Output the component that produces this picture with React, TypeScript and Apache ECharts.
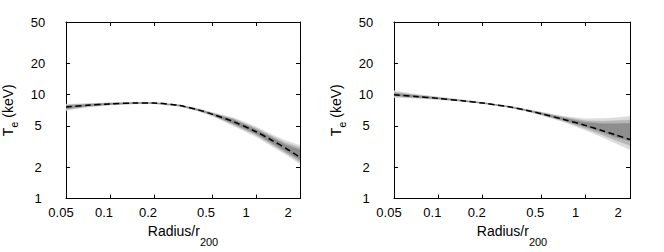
import React, { useEffect, useRef } from 'react';
import * as echarts from 'echarts';

// ---- data ----
const radius = [0.05, 0.07, 0.1, 0.15, 0.2, 0.3, 0.4, 0.5, 0.7, 1, 1.3, 1.6, 2];
const xTickValues = [0.05, 0.1, 0.2, 0.5, 1, 2];
const yTickValues = [1, 2, 5, 10, 20, 50];
const xRange = [0.05, 2];
const yRange = [1, 50];

// left panel
const leftFit = [7.6, 7.9, 8.15, 8.3, 8.3, 7.85, 7.15, 6.5, 5.5, 4.4, 3.6, 3.05, 2.5];
const leftOuterLo = [7.05, 7.6, 7.95, 8.18, 8.2, 7.72, 6.98, 6.25, 5.0, 3.95, 3.15, 2.65, 2.15];
const leftOuterHi = [8.1, 8.2, 8.35, 8.42, 8.4, 7.98, 7.32, 6.75, 6.0, 4.9, 4.1, 3.6, 3.25];
const leftMidLo = [7.2, 7.68, 8.0, 8.22, 8.23, 7.76, 7.03, 6.33, 5.15, 4.08, 3.27, 2.75, 2.25];
const leftMidHi = [7.95, 8.12, 8.3, 8.38, 8.37, 7.94, 7.27, 6.67, 5.85, 4.75, 3.95, 3.42, 3.1];
const leftInnerLo = [7.35, 7.76, 8.05, 8.25, 8.26, 7.8, 7.08, 6.4, 5.25, 4.2, 3.38, 2.85, 2.36];
const leftInnerHi = [7.82, 8.05, 8.25, 8.35, 8.34, 7.9, 7.22, 6.6, 5.75, 4.62, 3.82, 3.28, 2.95];

// right panel
const rightFit = [10.0, 9.6, 9.2, 8.7, 8.3, 7.65, 7.05, 6.55, 5.8, 5.05, 4.5, 4.1, 3.7];
const rightOuterLo = [9.4, 9.25, 9.0, 8.58, 8.22, 7.57, 6.93, 6.35, 5.5, 4.55, 3.9, 3.4, 2.95];
const rightOuterHi = [10.9, 10.1, 9.5, 8.85, 8.4, 7.75, 7.2, 6.8, 6.2, 5.85, 5.9, 6.0, 6.2];
const rightMidLo = [9.6, 9.35, 9.06, 8.62, 8.25, 7.6, 6.97, 6.42, 5.6, 4.72, 4.1, 3.65, 3.25];
const rightMidHi = [10.55, 9.95, 9.4, 8.8, 8.37, 7.72, 7.15, 6.72, 6.1, 5.6, 5.55, 5.6, 5.7];
const rightInnerLo = [9.8, 9.45, 9.12, 8.66, 8.28, 7.62, 7.0, 6.48, 5.7, 4.9, 4.35, 3.9, 3.6];
const rightInnerHi = [10.3, 9.8, 9.32, 8.76, 8.34, 7.7, 7.12, 6.65, 6.0, 5.4, 5.25, 5.25, 5.3];

const xTitle = ['Radius/r', '200'];
const yTitle = ['T', 'e', ' (keV)'];

// ---- styles ----
const FONT = '"Liberation Sans", Arial, Helvetica, sans-serif';
const BAND_COLORS = ['#dcdcdc', '#b6b6b6', '#8e8e8e'];
const labelShift: Record<string, number> = { '0.05': 5, '0.1': 6, '0.2': 6, '0.5': 6, '1': 10, '2': 12 };

const lg = (v: number) => Math.log10(v);
const unlog = (v: number) => String(Number(Math.pow(10, v).toPrecision(4)));

const xRich: Record<string, any> = {};
Object.keys(labelShift).forEach((k) => {
  const s = labelShift[k];
  xRich['s' + s] = { fontSize: 13, fontFamily: FONT, color: '#000', padding: [0, 2 * s, 0, 0] };
});

function buildAxes(gridIndex: number) {
  const line = { show: true, onZero: false, lineStyle: { color: '#000', width: 1 } };
  const tick = (vals: number[]) => ({
    show: true,
    inside: true,
    length: 4,
    lineStyle: { color: '#000', width: 1 },
    customValues: vals.map(lg),
  });
  const xBase = {
    type: 'value' as const,
    gridIndex,
    min: lg(xRange[0]),
    max: lg(xRange[1]),
    splitLine: { show: false },
    axisLine: line,
    axisTick: tick(xTickValues),
  };
  const yBase = {
    type: 'value' as const,
    gridIndex,
    min: lg(yRange[0]),
    max: lg(yRange[1]),
    splitLine: { show: false },
    axisLine: line,
    axisTick: tick(yTickValues),
  };
  const xAxes = [
    {
      ...xBase,
      position: 'bottom',
      axisLabel: {
        show: true,
        margin: 7,
        fontSize: 13,
        fontFamily: FONT,
        color: '#000',
        customValues: xTickValues.map(lg),
        formatter: (v: number) => {
          const t = unlog(v);
          return '{s' + (labelShift[t] ?? 6) + '|' + t + '}';
        },
        rich: xRich,
      },
      name: '{a|' + xTitle[0] + '}{b|' + xTitle[1] + '}',
      nameLocation: 'middle',
      nameGap: 12,
      nameTextStyle: {
        rich: {
          a: { fontSize: 14, fontFamily: FONT, color: '#000' },
          b: { fontSize: 11, fontFamily: FONT, color: '#000', padding: [22, 0, 0, 0] },
        },
      },
    },
    { ...xBase, position: 'top', axisLabel: { show: false } },
  ];
  const yAxes = [
    {
      ...yBase,
      position: 'left',
      axisLabel: {
        show: true,
        margin: 28,
        align: 'center',
        fontSize: 13,
        fontFamily: FONT,
        color: '#000',
        customValues: yTickValues.map(lg),
        formatter: (v: number) => unlog(v),
      },
      name: '{a|' + yTitle[0] + '}{b|' + yTitle[1] + '}{a|' + yTitle[2] + '}',
      nameLocation: 'middle',
      nameGap: 47,
      nameTextStyle: {
        rich: {
          a: { fontSize: 14, fontFamily: FONT, color: '#000' },
          b: { fontSize: 11, fontFamily: FONT, color: '#000', padding: [11, 0, 0, 0] },
        },
      },
    },
    { ...yBase, position: 'right', axisLabel: { show: false } },
  ];
  return { xAxes, yAxes };
}

function bandSeries(axisIdx: number, bands: { lo: number[]; hi: number[]; color: string }[]) {
  return {
    type: 'custom',
    xAxisIndex: axisIdx,
    yAxisIndex: axisIdx,
    clip: true,
    silent: true,
    data: [[lg(radius[0]), lg(yRange[0])]],
    renderItem: (_p: any, api: any) => ({
      type: 'group',
      children: bands.map((b) => {
        const upper = radius.map((r, i) => api.coord([lg(r), lg(b.hi[i])]));
        const lower = radius.map((r, i) => api.coord([lg(r), lg(b.lo[i])])).reverse();
        return {
          type: 'polygon',
          shape: { points: upper.concat(lower), smooth: 0 },
          style: { fill: b.color, stroke: b.color, lineWidth: 0.5 },
        };
      }),
    }),
  };
}

function fitSeries(axisIdx: number, fit: number[]) {
  return {
    type: 'line',
    xAxisIndex: axisIdx,
    yAxisIndex: axisIdx,
    data: radius.map((r, i) => [lg(r), lg(fit[i])]),
    showSymbol: false,
    smooth: 0.3,
    lineStyle: { color: '#000', width: 1.5, type: [6, 3.5] },
    z: 5,
  };
}

export default function App() {
  const ref = useRef<HTMLDivElement>(null);
  useEffect(() => {
    if (!ref.current) return;
    const chart = echarts.init(ref.current, undefined, { renderer: 'svg' });
    const a0 = buildAxes(0);
    const a1 = buildAxes(1);
    chart.setOption({
      animation: false,
      backgroundColor: '#fff',
      grid: [
        { left: 63, top: 22, width: 237, height: 188 },
        { left: 394, top: 22, width: 236, height: 188 },
      ],
      // xAxis order: 0 bottom-left, 1 bottom-right, 2 top-left, 3 top-right
      xAxis: [a0.xAxes[0], a1.xAxes[0], a0.xAxes[1], a1.xAxes[1]],
      yAxis: [a0.yAxes[0], a1.yAxes[0], a0.yAxes[1], a1.yAxes[1]],
      series: [
        bandSeries(0, [
          { lo: leftOuterLo, hi: leftOuterHi, color: BAND_COLORS[0] },
          { lo: leftMidLo, hi: leftMidHi, color: BAND_COLORS[1] },
          { lo: leftInnerLo, hi: leftInnerHi, color: BAND_COLORS[2] },
        ]),
        fitSeries(0, leftFit),
        bandSeries(1, [
          { lo: rightOuterLo, hi: rightOuterHi, color: BAND_COLORS[0] },
          { lo: rightMidLo, hi: rightMidHi, color: BAND_COLORS[1] },
          { lo: rightInnerLo, hi: rightInnerHi, color: BAND_COLORS[2] },
        ]),
        fitSeries(1, rightFit),
      ],
    });
    return () => chart.dispose();
  }, []);
  return (
    <div
      ref={ref}
      style={{ position: 'absolute', left: 0, top: 0, width: 664, height: 252, background: '#fff' }}
    />
  );
}
